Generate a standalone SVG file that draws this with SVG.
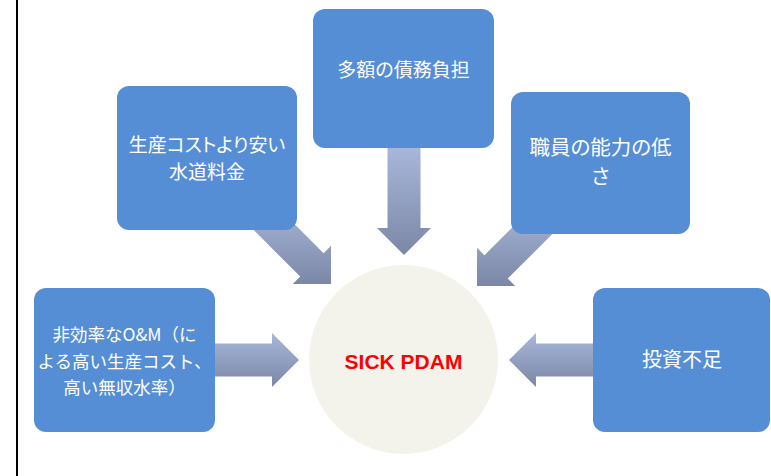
<svg xmlns="http://www.w3.org/2000/svg" width="771" height="476" viewBox="0 0 771 476">
  <defs>
    <linearGradient id="arrowGrad" x1="0" y1="0" x2="0" y2="1">
      <stop offset="0" stop-color="#a8b7da"/>
      <stop offset="1" stop-color="#7b87a6"/>
    </linearGradient>
    <style>
      .box { fill: #558ed5; }
      .arrow { fill: url(#arrowGrad); }
      .jp { font-family: "Noto Sans CJK JP", sans-serif; fill: #ffffff; text-anchor: middle; }
      .palt { font-feature-settings: "palt"; }
      .hub { fill: #f3f2eb; }
      .hubtext { font-family: "Liberation Sans", Arial, sans-serif; font-weight: bold; fill: #ff0000; text-anchor: middle; }
    </style>
  </defs>
  <rect x="0" y="0" width="771" height="476" fill="#ffffff"/>
  <rect x="16" y="0" width="2" height="476" fill="#000000"/>

  <g id="connectors">
    <polygon class="arrow" points="387.5,148 387.5,228 377,228 404,255 431,228 420.5,228 420.5,148"/>
    <polygon class="arrow" points="271.96,201.62 323.58,253.24 331,245.82 331,284 292.82,284 300.24,276.58 248.62,224.96"/>
    <polygon class="arrow" points="559.38,226.96 507.76,278.58 515.18,286 477,286 477,247.82 484.42,255.24 536.04,203.62"/>
    <polygon class="arrow" points="215,343.5 272,343.5 272,333 299,360 272,387 272,376.5 215,376.5"/>
    <polygon class="arrow" points="593,343.5 536,343.5 536,333 509,360 536,387 536,376.5 593,376.5"/>
  </g>

  <g id="hub">
    <circle class="hub" cx="403.5" cy="359.5" r="94.5"/>
    <text class="hubtext" x="403.5" y="369" font-size="21">SICK PDAM</text>
  </g>

  <g id="node-debt">
    <rect class="box" x="313" y="9" width="181" height="139" rx="12"/>
    <text class="jp palt" x="403.5" y="77" font-size="19">多額の債務負担</text>
  </g>

  <g id="node-tariff">
    <rect class="box" x="117" y="86" width="180" height="144" rx="12"/>
    <text class="jp palt" x="207" y="152" font-size="19">生産コストより安い</text>
    <text class="jp palt" x="207" y="179" font-size="19">水道料金</text>
  </g>

  <g id="node-staff">
    <rect class="box" x="511" y="92" width="179" height="142" rx="12"/>
    <text class="jp palt" x="600.5" y="155" font-size="20.5">職員の能力の低</text>
    <text class="jp palt" x="600.5" y="184" font-size="20.5">さ</text>
  </g>

  <g id="node-om">
    <rect class="box" x="34" y="288" width="181" height="144" rx="12"/>
    <text class="jp" x="124.5" y="341" font-size="17.5">非効率なO&amp;M（に</text>
    <text class="jp" x="124.5" y="368" font-size="17.5">よる高い生産コスト、</text>
    <text class="jp" x="124.5" y="394" font-size="17.5">高い無収水率）</text>
  </g>

  <g id="node-invest">
    <rect class="box" x="593" y="288" width="177" height="144" rx="12"/>
    <text class="jp palt" x="682" y="367" font-size="20">投資不足</text>
  </g>
</svg>
